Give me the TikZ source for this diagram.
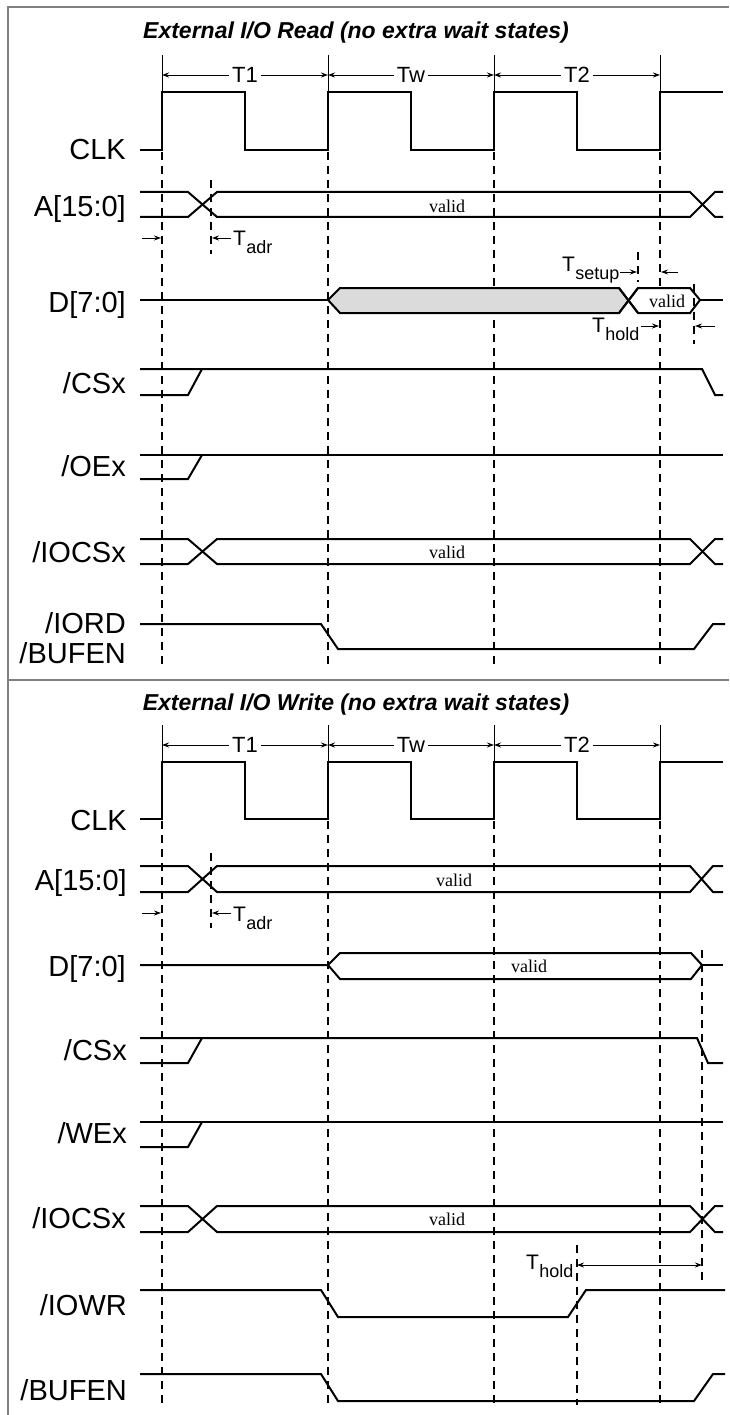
\documentclass[tikz,border=0pt]{standalone}
\usepackage{fontspec}
\setmainfont{Liberation Sans}
\newfontfamily\serifvalid{Liberation Serif}
\usetikzlibrary{arrows.meta}
\begin{document}
\begin{tikzpicture}[x=1pt,y=-1pt,
  sig/.style={line width=2pt, line join=miter},
  vgrid/.style={line width=1.8pt, dash pattern=on 8pt off 6pt},
  tickln/.style={line width=0.9pt},
  dim/.style={line width=0.9pt, -{Stealth[length=7pt,width=5pt]}},
  dimboth/.style={line width=0.9pt, {Stealth[length=7pt,width=5pt]}-{Stealth[length=7pt,width=5pt]}},
  lab/.style={anchor=base east, font=\fontsize{29}{30}\selectfont, inner sep=0pt},
  ttl/.style={font=\fontsize{23}{24}\selectfont\bfseries\itshape, inner sep=0pt},
  per/.style={font=\fontsize{22}{22}\selectfont, inner sep=3pt},
  val/.style={font=\serifvalid\fontsize{18}{18}\selectfont, inner sep=0pt},
  tbig/.style={font=\fontsize{21}{21}\selectfont, inner sep=0pt, anchor=base west},
  tsub/.style={font=\fontsize{18}{18}\selectfont, inner sep=0pt, anchor=base west},
  frame/.style={draw=gray, line width=1.3pt},
]
\useasboundingbox (0,0) rectangle (729,1415);
% frame
\draw[frame] (8,1415) -- (8,7) -- (729,7);
\draw[frame] (8,680) -- (729,680);

%% ================= READ PANEL =================
\node[ttl] (titleR) at (356,33) {External I/O Read (no extra wait states)};
% period markers
\foreach \x/\n in {162/a,328/b,494/c,660/d}{
  \coordinate (rt\n) at (\x,75);
  \draw[tickln] (\x,55) -- (\x,92);
}
\node[per] (rT1) at (245,75) {T1};
\node[per] (rTw) at (411,75) {Tw};
\node[per] (rT2) at (577,75) {T2};
\draw[dim] (rT1.west) -- (rta); \draw[dim] (rT1.east) -- (rtb);
\draw[dim] (rTw.west) -- (rtb); \draw[dim] (rTw.east) -- (rtc);
\draw[dim] (rT2.west) -- (rtc); \draw[dim] (rT2.east) -- (rtd);
% dashed grid
\foreach \x in {162,328,494,660} \draw[vgrid] (\x,152) -- (\x,668);
% CLK
\node[lab] (rCLK) at (126,160) {CLK};
\draw[sig] (140,150) -- (162,150) -- (162,92) -- (245,92) -- (245,150) -- (328,150) -- (328,92) -- (411,92) -- (411,150) -- (494,150) -- (494,92) -- (577,92) -- (577,150) -- (660,150) -- (660,92) -- (723,92);
% A
\node[lab] (rA) at (126,217) {A[15:0]};
\draw[sig] (140,192) -- (188,192) -- (217,217) -- (690,217) -- (715,192) -- (723,192);
\draw[sig] (140,217) -- (188,217) -- (217,192) -- (690,192) -- (715,217) -- (723,217);
\node[val] (rAv) at (447,206) {valid};
% Tadr
\draw[vgrid] (211,180) -- (211,254);
\coordinate (rTa1s) at (142,238); \coordinate (rTa1e) at (161,238);
\coordinate (rTa2s) at (231,238); \coordinate (rTa2e) at (212,238);
\draw[dim] (rTa1s) -- (rTa1e);
\draw[dim] (rTa2s) -- (rTa2e);
\node[tbig] (rTadr) at (233,246) {T};
\node[tsub] (rTadrs) at ([yshift=-8pt]rTadr.base east) {adr};
% D
\node[lab] (rD) at (126,312) {D[7:0]};
\draw[sig] (140,300) -- (328,300);
\filldraw[sig, fill=black!14] (328,300) -- (340,288) -- (619,288) -- (628.5,300.5) -- (619,313) -- (340,313) -- cycle;
\filldraw[sig, fill=white] (638,313) -- (690,313) -- (700,300) -- (690,288) -- (638,288) -- (628.5,300.5) -- cycle;
\draw[sig] (619,288) -- (638,313);
\draw[sig] (619,313) -- (638,288);
\draw[sig] (700,300) -- (723,300);
\node[val, fill=white, inner sep=1pt] (rDv) at (667,301) {valid};
% Tsetup / Thold
\draw[vgrid] (638,252) -- (638,282);
\draw[vgrid] (694,284) -- (694,344);
\node[tbig] (rTs) at (562,272) {T};
\node[tsub] (rTss) at ([yshift=-7pt]rTs.base east) {setup};
\coordinate (rTs1) at (620,272); \coordinate (rTs2) at (637,272);
\coordinate (rTs3) at (678,272); \coordinate (rTs4) at (661,272);
\draw[dim] (rTs1) -- (rTs2);
\draw[dim] (rTs3) -- (rTs4);
\node[tbig] (rTh) at (592,332) {T};
\node[tsub] (rThs) at ([yshift=-8pt]rTh.base east) {hold};
\coordinate (rTh1) at (641,326); \coordinate (rTh2) at (659,326);
\coordinate (rTh3) at (715,326); \coordinate (rTh4) at (695,326);
\draw[dim] (rTh1) -- (rTh2);
\draw[dim] (rTh3) -- (rTh4);
% /CSx
\node[lab] (rCS) at (126,393) {/CSx};
\draw[sig] (140,369) -- (702,369) -- (715,395) -- (723,395);
\draw[sig] (140,395) -- (188,395) -- (202,369);
% /OEx
\node[lab] (rOE) at (126,476) {/OEx};
\draw[sig] (140,455) -- (723,455);
\draw[sig] (140,479) -- (188,479) -- (202,455);
% /IOCSx
\node[lab] (rIOCS) at (126,562) {/IOCSx};
\draw[sig] (140,539) -- (188,539) -- (217,564) -- (690,564) -- (715,539) -- (723,539);
\draw[sig] (140,564) -- (188,564) -- (217,539) -- (690,539) -- (715,564) -- (723,564);
\node[val] (rIOv) at (447,552) {valid};
% /IORD /BUFEN
\node[lab] (rIORD) at (126,633) {/IORD};
\node[lab] (rBUF) at (126,663) {/BUFEN};
\draw[sig] (140,624) -- (321,624) -- (338,649) -- (694,649) -- (713,624) -- (725,624);

%% ================= WRITE PANEL =================
\node[ttl] (titleW) at (356,705) {External I/O Write (no extra wait states)};
\foreach \x/\n in {162/a,328/b,494/c,660/d}{
  \coordinate (wt\n) at (\x,745);
  \draw[tickln] (\x,725) -- (\x,762);
}
\node[per] (wT1) at (245,745) {T1};
\node[per] (wTw) at (411,745) {Tw};
\node[per] (wT2) at (577,745) {T2};
\draw[dim] (wT1.west) -- (wta); \draw[dim] (wT1.east) -- (wtb);
\draw[dim] (wTw.west) -- (wtb); \draw[dim] (wTw.east) -- (wtc);
\draw[dim] (wT2.west) -- (wtc); \draw[dim] (wT2.east) -- (wtd);
\foreach \x in {162,328,494,660} \draw[vgrid] (\x,821) -- (\x,1405);
% CLK
\node[lab] (wCLK) at (127,830) {CLK};
\draw[sig] (140,819) -- (162,819) -- (162,762) -- (245,762) -- (245,819) -- (328,819) -- (328,762) -- (411,762) -- (411,819) -- (494,819) -- (494,762) -- (577,762) -- (577,819) -- (660,819) -- (660,762) -- (723,762);
% A
\node[lab] (wA) at (127,890) {A[15:0]};
\draw[sig] (140,866) -- (188,866) -- (217,892) -- (690,892) -- (713,866) -- (723,866);
\draw[sig] (140,892) -- (188,892) -- (217,866) -- (690,866) -- (713,892) -- (723,892);
\node[val] (wAv) at (454,880) {valid};
% Tadr
\draw[vgrid] (211,853) -- (211,928);
\coordinate (wTa1s) at (142,913); \coordinate (wTa1e) at (161,913);
\coordinate (wTa2s) at (231,913); \coordinate (wTa2e) at (212,913);
\draw[dim] (wTa1s) -- (wTa1e);
\draw[dim] (wTa2s) -- (wTa2e);
\node[tbig] (wTadr) at (233,921) {T};
\node[tsub] (wTadrs) at ([yshift=-8pt]wTadr.base east) {adr};
% D
\node[lab] (wD) at (126,976) {D[7:0]};
\draw[sig] (140,965) -- (328,965) -- (340,953) -- (691,953) -- (702,965) -- (691,979) -- (340,979) -- (328,965);
\draw[sig] (702,965) -- (723,965);
\node[val] (wDv) at (529,966) {valid};
\draw[vgrid] (702,950) -- (702,1284);
% /CSx
\node[lab] (wCS) at (127,1060) {/CSx};
\draw[sig] (140,1038) -- (697,1038) -- (708,1063) -- (723,1063);
\draw[sig] (140,1063) -- (188,1063) -- (202,1038);
% /WEx
\node[lab] (wWE) at (127,1143) {/WEx};
\draw[sig] (140,1122) -- (723,1122);
\draw[sig] (140,1147) -- (188,1147) -- (202,1122);
% /IOCSx
\node[lab] (wIOCS) at (126,1228) {/IOCSx};
\draw[sig] (140,1206) -- (188,1206) -- (217,1232) -- (690,1232) -- (715,1206) -- (723,1206);
\draw[sig] (140,1232) -- (188,1232) -- (217,1206) -- (690,1206) -- (715,1232) -- (723,1232);
\node[val] (wIOv) at (447,1219) {valid};
% Thold
\draw[vgrid] (577,1245) -- (577,1405);
\coordinate (wTh1) at (577,1265); \coordinate (wTh2) at (702,1265);
\draw[dimboth] (wTh1) -- (wTh2);
\node[tbig] (wTh) at (526,1269) {T};
\node[tsub] (wThs) at ([yshift=-8pt]wTh.base east) {hold};
% /IOWR
\node[lab] (wIOWR) at (127,1315) {/IOWR};
\draw[sig] (140,1290) -- (321,1290) -- (338,1317) -- (568,1317) -- (586,1290) -- (725,1290);
% /BUFEN
\node[lab] (wBUF) at (127,1400) {/BUFEN};
\draw[sig] (140,1374) -- (321,1374) -- (338,1401) -- (694,1401) -- (713,1374) -- (725,1374);
\end{tikzpicture}
\end{document}
